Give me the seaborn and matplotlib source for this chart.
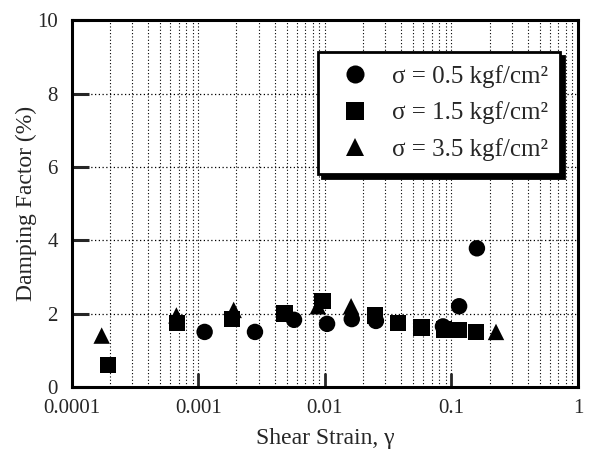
import matplotlib
matplotlib.use("Agg")
import matplotlib.pyplot as plt
import matplotlib.ticker as mticker
import seaborn as sns
import pandas as pd
import numpy as np

# Data
c_x = [0.00112, 0.0028, 0.0057, 0.0104, 0.0163, 0.0253, 0.0857, 0.115, 0.159]
c_y = [1.5, 1.5, 1.83, 1.72, 1.85, 1.8, 1.65, 2.2, 3.78]
s_x = [0.000193, 0.00068, 0.00184, 0.0048, 0.0096, 0.025, 0.0378, 0.058, 0.087, 0.115, 0.157]
s_y = [0.6, 1.75, 1.85, 2.0, 2.35, 1.95, 1.75, 1.62, 1.57, 1.55, 1.5]
t_x = [0.000172, 0.00067, 0.0019, 0.0088, 0.0161, 0.225]
t_y = [1.4, 1.95, 2.1, 2.2, 2.2, 1.5]
labels = ["σ = 0.5 kgf/cm²", "σ = 1.5 kgf/cm²", "σ = 3.5 kgf/cm²"]

df = pd.concat([
    pd.DataFrame({"x": c_x, "y": c_y, "s": labels[0]}),
    pd.DataFrame({"x": s_x, "y": s_y, "s": labels[1]}),
    pd.DataFrame({"x": t_x, "y": t_y, "s": labels[2]}),
])

sns.set_style("white")
plt.rcParams["font.family"] = ["Liberation Serif", "DejaVu Serif"]

fig = plt.figure(figsize=(5.94, 4.59), dpi=100)
ax = fig.add_axes([0.121, 0.157, 0.852, 0.799])

sns.scatterplot(data=df, x="x", y="y", style="s", hue="s",
                palette=["black"] * 3, markers=["o", "s", "^"],
                s=140, edgecolor="black", linewidth=0, ax=ax, zorder=3)

ax.set_xscale("log")
ax.set_xlim(1e-4, 1)
ax.set_ylim(0, 10)
ax.xaxis.set_major_locator(mticker.FixedLocator([1e-4, 1e-3, 1e-2, 1e-1, 1]))
ax.xaxis.set_major_formatter(mticker.FixedFormatter(["0.0001", "0.001", "0.01", "0.1", "1"]))
ax.xaxis.set_minor_locator(mticker.LogLocator(base=10, subs=np.arange(2, 10)))
ax.xaxis.set_minor_formatter(mticker.NullFormatter())
ax.yaxis.set_major_locator(mticker.MultipleLocator(2))

ax.grid(True, which="minor", axis="x", linestyle=(0, (1, 2)), color="black", linewidth=0.8)
ax.grid(True, which="major", axis="x", linestyle=(0, (1, 2)), color="black", linewidth=0.8)
ax.grid(True, which="major", axis="y", linestyle=(0, (1, 2)), color="black", linewidth=0.9)

for sp in ax.spines.values():
    sp.set_linewidth(2.2)
    sp.set_color("black")

ax.tick_params(axis="x", which="major", direction="in", length=10, width=2, labelsize=15, pad=9)
ax.tick_params(axis="x", which="minor", direction="in", length=6, width=1.5)
ax.tick_params(axis="y", which="major", direction="in", length=12, width=2.2, labelsize=15, pad=10)
ax.tick_params(bottom=True, left=True, top=False, right=False)

ax.set_xlabel("Shear Strain, γ", fontsize=17, labelpad=7)
ax.set_ylabel("Damping Factor (%)", fontsize=17, labelpad=0)

leg = ax.legend(loc="upper right", bbox_to_anchor=(0.965, 0.913), borderaxespad=0,
                fontsize=18, frameon=True, fancybox=False,
                shadow={"color": "black", "alpha": 1, "ox": 3, "oy": -3},
                edgecolor="black", framealpha=1, handletextpad=0.45,
                borderpad=0.5, labelspacing=0.55, markerscale=1.1, handlelength=2.0)
leg.get_frame().set_linewidth(2)

fig.savefig("out.png", dpi=100)
